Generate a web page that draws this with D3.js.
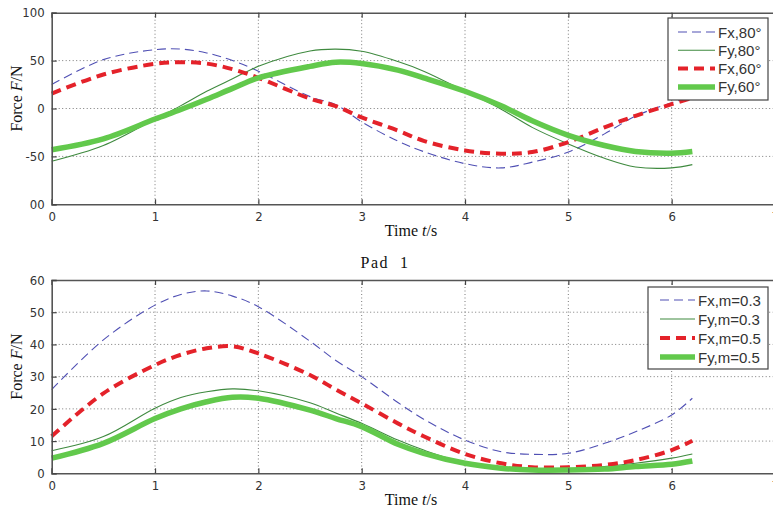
<!DOCTYPE html>
<html>
<head>
<meta charset="utf-8">
<script src="https://cdn.jsdelivr.net/npm/d3@7/dist/d3.min.js"></script>
<style>
  html, body { margin: 0; padding: 0; background: #fff; }
  svg { display: block; }
  .tick-label { font-family: "Liberation Sans Narrow", "Arial Narrow", "DejaVu Sans Condensed", "Liberation Sans", sans-serif; font-size: 13px; fill: #333; }
  .axis-title { font-family: "Liberation Serif", "Times New Roman", serif; font-size: 16px; fill: #111; }
  .legend-text { font-family: "Liberation Sans", Arial, sans-serif; font-size: 15px; fill: #333; }
</style>
</head>
<body>
<svg id="chart" width="773" height="511"></svg>
<script>
// Sample times (s) shared by every series
const time = [0, 0.5, 1, 1.25, 1.5, 1.75, 2, 2.5, 2.75, 3, 3.35, 3.6, 4, 4.35, 4.65, 5, 5.35, 5.65, 6, 6.2];

// Pad 1: inclination angle 80° and 60°
const fx80 = [25, 51, 61.4, 62, 58, 50, 39, 12.4, 4, -14, -34, -45, -57.6, -62, -56, -45.5, -26.5, -8, 6, 12];
const fy80 = [-55, -38.6, -11, 3, 18, 31, 44, 60, 62, 59.7, 49, 39, 18, -0.7, -19.7, -37, -52, -61, -62, -58.6];
const fx60 = [15.5, 35.5, 46.6, 48.3, 46.9, 41, 32, 10.3, 2.5, -9.3, -23, -33.8, -43.8, -47.2, -45.5, -35, -19.7, -7.6, 4.5, 11];
const fy60 = [-43, -31.7, -11, -1, 9.7, 21, 32, 44, 48.3, 46.9, 40, 32, 18, 2.8, -12.8, -28, -38.6, -44.8, -46.6, -44.8];

// Friction coefficient m = 0.3 and m = 0.5
const fxM03 = [26, 41.4, 52.2, 55.5, 56.6, 55, 51.7, 41, 35, 30, 22, 16.8, 10.3, 6.7, 5.9, 6.2, 9.3, 12.9, 18.1, 23.3];
const fyM03 = [7, 11.4, 20.2, 23.5, 25.3, 26.2, 25.6, 21.9, 18.7, 15.5, 10.3, 7.2, 3.3, 1.9, 1.3, 1.4, 2.1, 3.1, 4.7, 6];
const fxM05 = [11.5, 24.8, 33.6, 36.8, 38.8, 39.4, 37.2, 30.5, 26, 21.7, 15.5, 11.5, 6, 3.1, 1.9, 1.9, 2.6, 4.1, 7.2, 10.1];
const fyM05 = [4.7, 9.3, 17, 20, 22.2, 23.6, 23.3, 19.6, 17, 14.5, 9, 6.2, 3.1, 1.6, 1, 1, 1.3, 2.1, 2.8, 3.8];

// Tick labels
const xTicks = [0, 1, 2, 3, 4, 5, 6, 7];
const yTicksTop = [-100, -50, 0, 50, 100];
const yTickLabelsTop = ["00", "-50", "0", "50", "100"];
const yTicksBottom = [0, 10, 20, 30, 40, 50, 60];
const yTickLabelsBottom = ["0", "10", "20", "30", "40", "50", "60"];

const legendTop = ["Fx,80°", "Fy,80°", "Fx,60°", "Fy,60°"];
const legendBottom = ["Fx,m=0.3", "Fy,m=0.3", "Fx,m=0.5", "Fy,m=0.5"];
const subTitle = "Pad  1";

// Line styles: blue thin dashed, thin green, thick red dashed, thick green
const styles = [
  { color: "#5050b4", width: 1.1, dash: "9,5" },
  { color: "#3f8a3f", width: 1.1, dash: null },
  { color: "#e4222a", width: 4, dash: "10,6" },
  { color: "#62c94c", width: 5.5, dash: null }
];

const svg = d3.select("#chart");

function drawPanel(cfg) {
  const x = d3.scaleLinear().domain([0, 7]).range([51.7, 775]);
  const y = d3.scaleLinear().domain(cfg.yDomain).range([cfg.bottom, cfg.top]);
  const g = svg.append("g");

  // dotted grid
  g.append("g").selectAll("line.vg").data(xTicks.slice(1, -1)).join("line")
    .attr("x1", d => x(d)).attr("x2", d => x(d))
    .attr("y1", cfg.top).attr("y2", cfg.bottom)
    .attr("stroke", "#7a7a7a").attr("stroke-width", 1).attr("stroke-dasharray", "1,2.5");
  g.append("g").selectAll("line.hg").data(cfg.yTicks.slice(1, -1)).join("line")
    .attr("x1", x(0)).attr("x2", x(7))
    .attr("y1", d => y(d)).attr("y2", d => y(d))
    .attr("stroke", "#7a7a7a").attr("stroke-width", 1).attr("stroke-dasharray", "1,2.5");

  // data lines
  const line = d3.line()
    .x((d, i) => x(time[i]))
    .y(d => y(d))
    .curve(d3.curveCatmullRom.alpha(0.5));
  cfg.series.forEach((s, k) => {
    const st = styles[k];
    g.append("path")
      .attr("d", line(s))
      .attr("fill", "none")
      .attr("stroke", st.color)
      .attr("stroke-width", st.width)
      .attr("stroke-dasharray", st.dash)
      .attr("stroke-linejoin", "round");
  });

  // axes box with inward ticks
  const bottomAxis = d3.axisBottom(x).tickValues(xTicks).tickSize(-5).tickPadding(7).tickFormat(d3.format("d"));
  const topAxis = d3.axisTop(x).tickValues(xTicks).tickSize(-5).tickFormat("");
  const leftAxis = d3.axisLeft(y).tickValues(cfg.yTicks).tickSize(-5).tickPadding(7)
    .tickFormat((d, i) => cfg.yLabels[i]);

  const gb = g.append("g").attr("transform", `translate(0,${cfg.bottom})`).call(bottomAxis);
  const gt = g.append("g").attr("transform", `translate(0,${cfg.top})`).call(topAxis);
  const gl = g.append("g").attr("transform", `translate(${x(0)},0)`).call(leftAxis);
  [gb, gt, gl].forEach(a => {
    a.select(".domain").attr("stroke", "#555").attr("stroke-width", 1.6);
    a.selectAll(".tick line").attr("stroke", "#444").attr("stroke-width", 1.2);
    a.selectAll(".tick text").attr("class", "tick-label").attr("font-family", null).attr("font-size", null);
  });

  // axis titles
  const xt = g.append("text").attr("class", "axis-title")
    .attr("x", 411).attr("y", cfg.bottom + 32).attr("text-anchor", "middle");
  xt.append("tspan").text("Time ");
  xt.append("tspan").attr("font-style", "italic").text("t");
  xt.append("tspan").text("/s");

  const yt = g.append("text").attr("class", "axis-title")
    .attr("transform", `translate(22,${(cfg.top + cfg.bottom) / 2 - 10}) rotate(-90)`)
    .attr("text-anchor", "middle");
  yt.append("tspan").text("Force ");
  yt.append("tspan").attr("font-style", "italic").text("F");
  yt.append("tspan").text("/N");

  // legend
  const L = cfg.legend;
  const lg = g.append("g");
  lg.append("rect").attr("x", L.x).attr("y", L.y).attr("width", L.w).attr("height", L.h)
    .attr("fill", "#fff").attr("stroke", "#444").attr("stroke-width", 1.2);
  cfg.legendLabels.forEach((lab, k) => {
    const st = styles[k];
    const cy = L.y + L.row0 + k * L.step;
    lg.append("line")
      .attr("x1", L.x + L.s0).attr("x2", L.x + L.s1)
      .attr("y1", cy).attr("y2", cy)
      .attr("stroke", st.color).attr("stroke-width", st.width)
      .attr("stroke-dasharray", st.dash);
    lg.append("text").attr("class", "legend-text")
      .attr("x", L.x + L.s1 + 3).attr("y", cy + 5.5).text(lab);
  });
}

drawPanel({
  top: 12.7, bottom: 204.3, yDomain: [-100, 100],
  yTicks: yTicksTop, yLabels: yTickLabelsTop,
  series: [fx80, fy80, fx60, fy60],
  legendLabels: legendTop,
  legend: { x: 668, y: 18, w: 100, h: 82, row0: 14, step: 18.3, s0: 10, s1: 47 }
});

drawPanel({
  top: 280, bottom: 473.3, yDomain: [0, 60],
  yTicks: yTicksBottom, yLabels: yTickLabelsBottom,
  series: [fxM03, fyM03, fxM05, fyM05],
  legendLabels: legendBottom,
  legend: { x: 648, y: 287, w: 120, h: 82, row0: 13, step: 19, s0: 12, s1: 47 }
});

// subplot caption
svg.append("text").attr("class", "axis-title")
  .attr("x", 385).attr("y", 268).attr("text-anchor", "middle")
  .attr("letter-spacing", "1.5px").style("white-space", "pre")
  .text(subTitle);
</script>
</body>
</html>
